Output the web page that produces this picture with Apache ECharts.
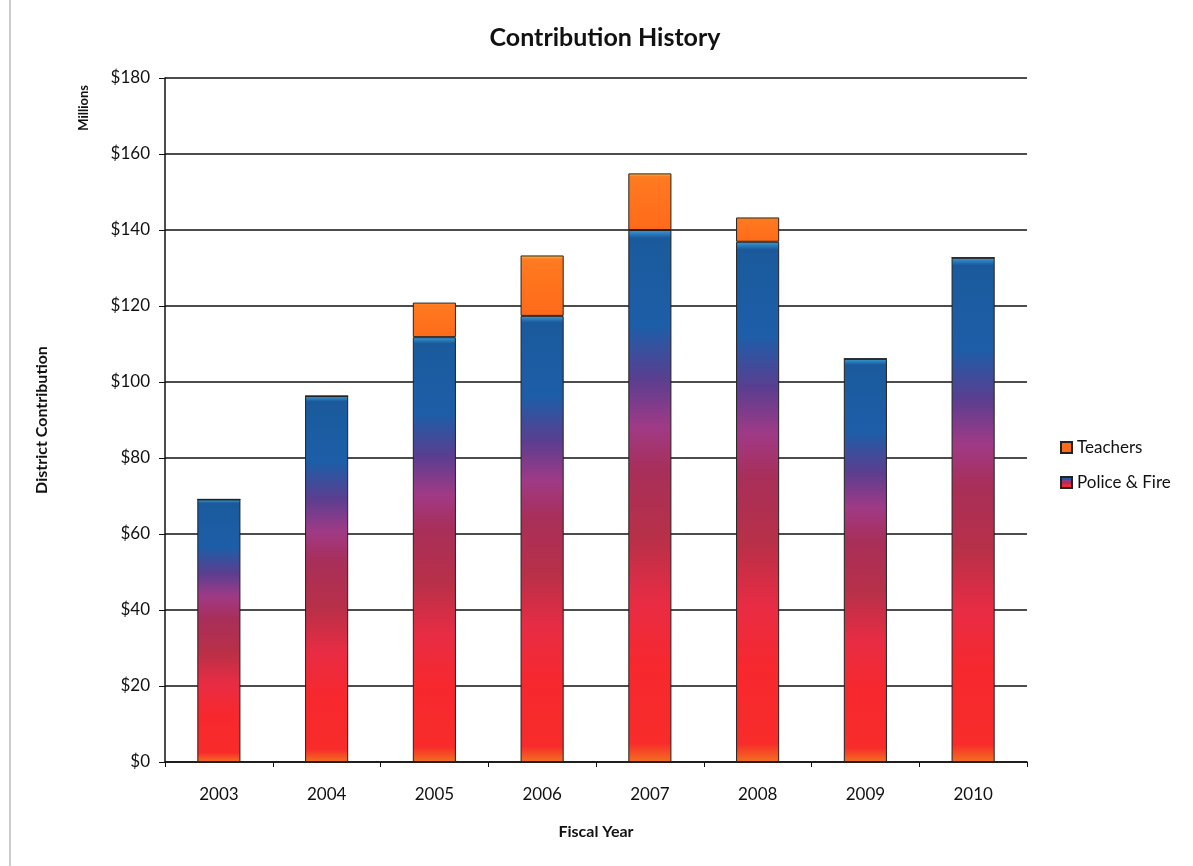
<!DOCTYPE html>
<html><head><meta charset="utf-8">
<script src="https://cdn.jsdelivr.net/npm/echarts@6/dist/echarts.min.js"></script>
<style>html,body{margin:0;padding:0;background:#fff}#c{width:1193px;height:866px}</style>
</head><body><div id="c"></div>
<script>
const years = ['2003','2004','2005','2006','2007','2008','2009','2010'];
const policeFire = [69.1, 96.3, 111.8, 117.4, 140.0, 136.9, 106.1, 132.7];
const teachers = [0, 0, 9.1, 15.9, 14.9, 6.4, 0, 0];
const yTicks = [0, 20, 40, 60, 80, 100, 120, 140, 160, 180];

const FONT = 'Lato, "Open Sans", sans-serif';
const pfGrad = new echarts.graphic.LinearGradient(0, 0, 0, 1, [
  {offset: 0, color: '#3a9ad8'},
  {offset: 0.015, color: '#1a5a9c'},
  {offset: 0.18, color: '#1d5ea8'},
  {offset: 0.28, color: '#5a3e90'},
  {offset: 0.37, color: '#a03a86'},
  {offset: 0.45, color: '#a82f5a'},
  {offset: 0.58, color: '#b83048'},
  {offset: 0.7, color: '#e82c44'},
  {offset: 0.82, color: '#f7282e'},
  {offset: 0.965, color: '#f82c2a'},
  {offset: 1, color: '#f27020'}
]);
const tGrad = new echarts.graphic.LinearGradient(0, 0, 0, 1, [
  {offset: 0, color: '#ffc040'},
  {offset: 0.06, color: '#ff7a20'},
  {offset: 1, color: '#ff6a1a'}
]);
const chart = echarts.init(document.getElementById('c'));
chart.setOption({
  animation: false,
  backgroundColor: '#fff',
  title: {
    text: 'Contribution History', left: 600, top: 20, textAlign: 'center',
    textStyle: {fontFamily: FONT, fontSize: 25, fontWeight: 'bold', color: '#111'}
  },
  legend: {
    orient: 'vertical', left: 1055, top: 434, itemWidth: 11, itemHeight: 11, itemGap: 18,
    icon: 'rect',
    textStyle: {fontFamily: FONT, fontSize: 17, color: '#111'},
    data: [
      {name: 'Teachers', itemStyle: {color: '#ff6a1a'}},
      {name: 'Police & Fire', itemStyle: {color: pfGrad}}
    ]
  },
  grid: {left: 165, right: 166, top: 78, bottom: 104},
  xAxis: {
    type: 'category', data: years,
    name: 'Fiscal Year', nameLocation: 'middle', nameGap: 62,
    nameTextStyle: {fontFamily: FONT, fontSize: 16, fontWeight: 'bold', color: '#111'},
    axisLine: {lineStyle: {color: '#111', width: 1.5}},
    axisTick: {show: true, alignWithLabel: false, length: 5, lineStyle: {color: '#111'}},
    axisLabel: {fontFamily: FONT, fontSize: 17, color: '#111', margin: 24}
  },
  yAxis: {
    type: 'value', min: 0, max: 180, interval: 20,
    name: 'District Contribution', nameLocation: 'middle', nameGap: 115, nameRotate: 90,
    nameTextStyle: {fontFamily: FONT, fontSize: 16, fontWeight: 'bold', color: '#111'},
    axisLine: {show: true, lineStyle: {color: '#111', width: 1.5}},
    axisTick: {show: true, length: 6, lineStyle: {color: '#111'}},
    axisLabel: {fontFamily: FONT, fontSize: 17, color: '#111', margin: 15,
      formatter: v => yTicks.includes(v) ? '$' + v : ''},
    splitLine: {lineStyle: {color: '#111', width: 1.5}}
  },
  graphic: [
    {type: 'text', left: 77, top: 85, rotation: Math.PI / 2,
     style: {text: 'Millions', fontFamily: FONT, fontSize: 13, fontWeight: 'bold', fill: '#111'}},
    {type: 'line', shape: {x1: 10, y1: 0, x2: 10, y2: 866}, style: {stroke: '#999', lineWidth: 1}}
  ],
  series: [
    {name: 'Police & Fire', type: 'bar', stack: 'a', data: policeFire, barWidth: '40%',
     itemStyle: {color: pfGrad, borderColor: '#222', borderWidth: 1}},
    {name: 'Teachers', type: 'bar', stack: 'a', data: teachers, barWidth: '40%',
     itemStyle: {color: tGrad, borderColor: '#222', borderWidth: 1}}
  ]
});
</script></body></html>
